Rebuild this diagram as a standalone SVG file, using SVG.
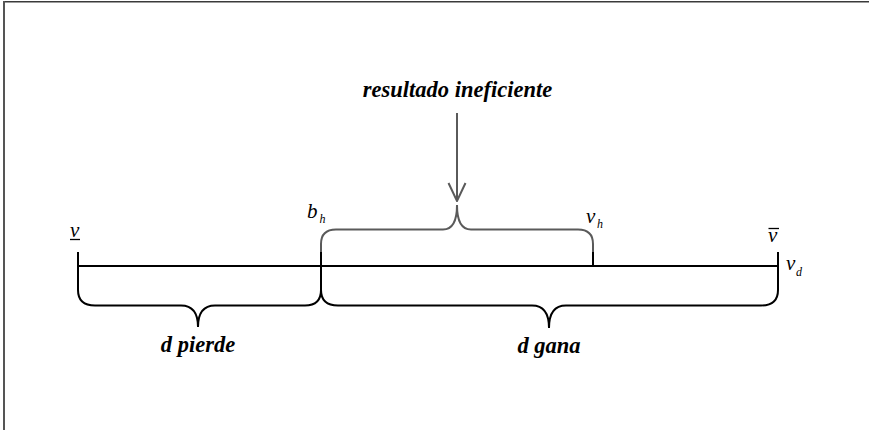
<svg xmlns="http://www.w3.org/2000/svg" width="869" height="430" viewBox="0 0 869 430">
<style>
.bg{fill:#fff}
.blk{fill:none;stroke:#000;stroke-width:2;stroke-linecap:butt}
.gry{fill:none;stroke:#5a5a5a;stroke-width:2}
text{font-family:'Liberation Serif','DejaVu Serif',serif;font-style:italic;fill:#000}
.lbl{font-weight:bold;font-size:22.5px}
.var{font-size:21px}
.sub{font-size:12px}
.bar{stroke:#000;stroke-width:1.3}
</style>
<defs>
<marker id="vhead" viewBox="0 0 20 20" refX="19" refY="10" markerWidth="20" markerHeight="20" markerUnits="userSpaceOnUse" orient="auto">
<path d="M1,1.5 L19,10 L1,18.5" fill="none" stroke="#5a5a5a" stroke-width="2"/>
</marker>
</defs>
<rect class="bg" x="0" y="0" width="869" height="430"/>
<g id="frame">
<line x1="3" y1="1.8" x2="869" y2="1.8" stroke="#3a3a3a" stroke-width="1.6"/>
<line x1="4" y1="1" x2="4" y2="430" stroke="#555" stroke-width="2"/>
</g>
<g id="connectors">
<line id="axis" class="blk" x1="78" y1="266" x2="778" y2="266"/>
<path id="brace-pierde" class="blk" d="M78,252 V290 Q78,305.5 95,305.5 H181 C192,305.5 198,312 198,327 C198,312 204,305.5 215,305.5 H305 Q321,305.5 321,290 V251"/>
<path id="brace-gana" class="blk" d="M321,290 Q321,305.5 338,305.5 H532 C543,305.5 549,312 549,328 C549,312 555,305.5 566,305.5 H761 Q778,305.5 778,290 V252"/>
<line id="tick-vh" class="blk" x1="593" y1="251" x2="593" y2="266"/>
<path id="brace-ineficiente" class="gry" d="M321,252 V244 Q321,229.5 336,229.5 H443 C452,229.5 457,222 457,205 C457,222 462,229.5 471,229.5 H578 Q593,229.5 593,244 V252"/>
<line id="arrow" class="gry" x1="457" y1="113" x2="457" y2="201" marker-end="url(#vhead)"/>
</g>
<g id="label-resultado"><text class="lbl" x="457.5" y="97" text-anchor="middle">resultado ineficiente</text></g>
<g id="label-pierde"><text class="lbl" x="198" y="352" text-anchor="middle">d pierde</text></g>
<g id="label-gana"><text class="lbl" x="549" y="353" text-anchor="middle">d gana</text></g>
<g id="node-vlow"><text class="var" x="70" y="237">v</text><line class="bar" x1="70" y1="239.5" x2="80" y2="239.5"/></g>
<g id="node-bh"><text class="var" x="307" y="218">b</text><text class="sub" x="319.5" y="223">h</text></g>
<g id="node-vh"><text class="var" x="586" y="223">v</text><text class="sub" x="597" y="227.5">h</text></g>
<g id="node-vhigh"><text class="var" x="768" y="241.5">v</text><line class="bar" x1="768.5" y1="228.5" x2="779" y2="228.5"/></g>
<g id="node-vd"><text class="var" x="786" y="269.5">v</text><text class="sub" x="796" y="275.5">d</text></g>
</svg>
